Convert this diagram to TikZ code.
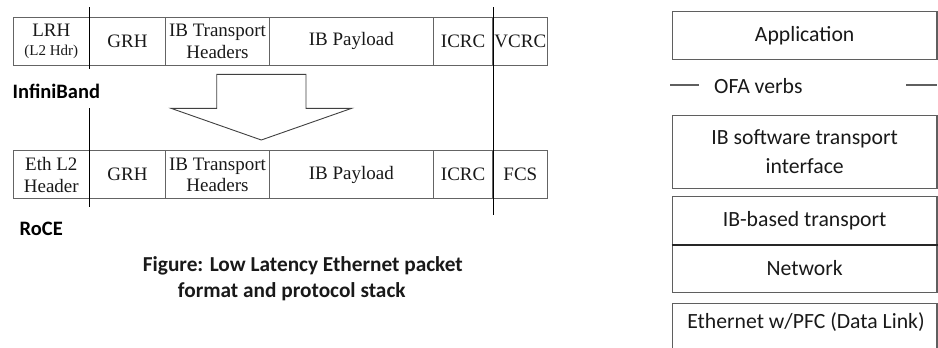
\documentclass[tikz,border=0pt]{standalone}
\usepackage{fontspec}
\setmainfont{Liberation Serif}
\newfontfamily\carlito{Carlito}
\definecolor{boxgray}{RGB}{100,100,100}
\definecolor{stackgray}{RGB}{95,95,95}
\definecolor{txt}{RGB}{25,25,25}
\begin{document}
\begin{tikzpicture}[x=1pt,y=-1pt,
  field/.style={draw=boxgray, line width=1.2pt, minimum height=48pt, inner sep=0pt,
    align=center, text=txt, font=\fontsize{19}{21.5}\selectfont},
  stackbox/.style={draw=stackgray, line width=1.3pt, minimum width=264.7pt, inner sep=0pt,
    align=center, text=txt, font=\carlito\fontsize{21.7}{29}\selectfont},
  stacktext/.style={inner sep=0pt, align=center, text=txt, font=\carlito\fontsize{21.7}{29}\selectfont},
  biglabel/.style={inner sep=0pt, anchor=base west, text=black, font=\carlito\bfseries\fontsize{20.5}{24}\selectfont},
  caption/.style={inner sep=0pt, anchor=base west, text=txt, font=\carlito\bfseries\fontsize{21.3}{25}\selectfont},
  longline/.style={draw=black, line width=1pt},
  ofaline/.style={draw=stackgray, line width=1.1pt}]
\useasboundingbox (0,0) rectangle (938,348);

% InfiniBand packet
\node[field, minimum width=76pt]   (lrh)  at (51.3,41.2)  {LRH\\[-2.5pt]{\fontsize{15}{17}\selectfont (L2 Hdr)}};
\node[field, minimum width=76.4pt] (grh1) at (127.5,41.2) {GRH};
\node[field, minimum width=103.6pt](ibt1) at (217.5,41.2) {IB Transport\\Headers};
\node[field, minimum width=164pt]  (pay1) at (351.3,41.2) {IB Payload};
\node[field, minimum width=59.7pt] (icrc1) at (463.15,41.2) {ICRC};
\node[field, minimum width=54.7pt] (vcrc) at (520.35,41.2) {VCRC};

% RoCE packet
\node[field, minimum width=76pt]   (eth)  at (51.3,174.8)  {Eth L2\\Header};
\node[field, minimum width=76.4pt] (grh2) at (127.5,174.8) {GRH};
\node[field, minimum width=103.6pt](ibt2) at (217.5,174.8) {IB Transport\\Headers};
\node[field, minimum width=164pt]  (pay2) at (351.3,174.8) {IB Payload};
\node[field, minimum width=59.7pt] (icrc2) at (463.15,174.8) {ICRC};
\node[field, minimum width=54.7pt] (fcs) at (520.35,174.8) {FCS};

% long vertical lines
\coordinate (la) at (89.3,7);
\coordinate (lb) at (89.3,69);
\coordinate (lc) at (89.3,108);
\coordinate (ld) at (89.3,207);
\coordinate (ra) at (493,7);
\coordinate (rb) at (493,215);
\draw[longline] (la) -- (lb);
\draw[longline] (lc) -- (ld);
\draw[longline] (ra) -- (rb);

% big arrow
\draw[draw=black!75, line width=0.9pt, fill=white]
  (216.7,74.3) -- (306,74.3) -- (306,108.3) -- (351.7,108.3) -- (261.3,140)
  -- (171,108.3) -- (216.7,108.3) -- cycle;

% labels
\node[biglabel] (ib) at (12.5,98.3) {InfiniBand};
\node[biglabel] (roce) at (19.5,235) {RoCE};
\node[caption] (cap1) at (142.7,271.7) {Figure: Low Latency Ethernet packet};
\node[caption] (cap2) at (177.7,297.3) {format and protocol stack};

% protocol stack
\node[stackbox, minimum height=47.6pt] (app) at (804.65,35.5) {Application};
\node[stacktext] (ofa) at (758.3,86) {OFA verbs};
\coordinate (oa) at (670,85);
\coordinate (ob) at (699,85);
\coordinate (oc) at (906,85);
\coordinate (od) at (937,85);
\draw[ofaline] (oa) -- (ob);
\draw[ofaline] (oc) -- (od);
\node[stackbox, minimum height=72.6pt] (ibsw) at (804.65,152) {IB software transport\\interface};
\node[stackbox, minimum height=47.6pt] (ibb) at (804.65,220.5) {IB-based transport};
\node[stackbox, minimum height=48pt] (net) at (804.65,268.3) {Network};
\draw[draw=black!85, line width=1.2pt] (ibb.south west) -- (ibb.south east);
\node[stackbox, minimum height=50pt] (ethbox) at (804.65,328.3) {};
\node[stacktext] (etht) at (806,322.5) {Ethernet w/PFC (Data Link)};
\end{tikzpicture}
\end{document}
